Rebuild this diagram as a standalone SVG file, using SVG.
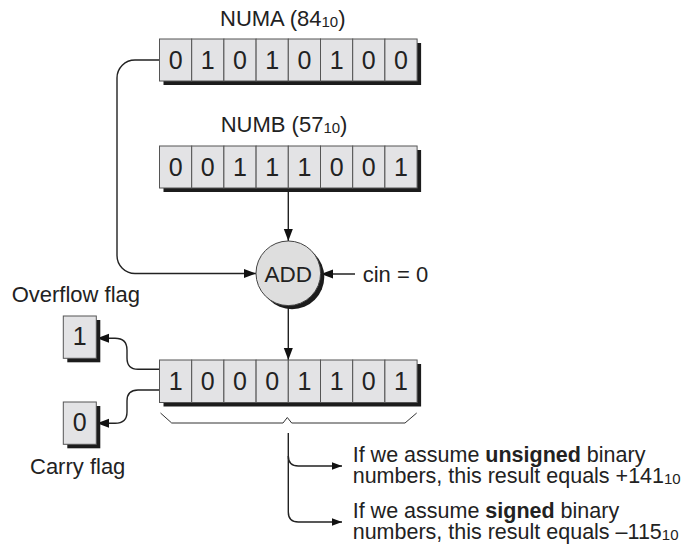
<svg xmlns="http://www.w3.org/2000/svg" width="686" height="555" viewBox="0 0 686 555">
<defs>
<style>
text{font-family:"Liberation Sans",Arial,Helvetica,sans-serif;fill:#222}
.lbl{font-size:22px}
.dig{font-size:25px;text-anchor:middle}
.exp{font-size:21.5px}
.sub{font-size:15px}
.cell{fill:#e3e3e5;stroke:#555;stroke-width:1}
.shadow{fill:#1c1c1c}
.wire{fill:none;stroke:#222;stroke-width:1.4}
.brace{fill:none;stroke:#333;stroke-width:1}
</style>
<marker id="arr" markerUnits="userSpaceOnUse" markerWidth="12" markerHeight="10" refX="12" refY="4.5" orient="auto">
<path d="M0,0 L12,4.5 L0,9 z" fill="#111"/>
</marker>
<marker id="arrs" markerUnits="userSpaceOnUse" markerWidth="10" markerHeight="8" refX="10" refY="3.75" orient="auto">
<path d="M0,0 L10,3.75 L0,7.5 z" fill="#111"/>
</marker>
</defs>
<rect width="686" height="555" fill="#fff"/>

<g id="connectors">
<path class="wire" d="M159.5 60 H135 A18 18 0 0 0 117 78 V255.5 A18 18 0 0 0 135 273.5 H256" marker-end="url(#arr)"/>
<path class="wire" d="M288.3 188 V241" marker-end="url(#arr)"/>
<path class="wire" d="M355 274 H321" marker-end="url(#arr)"/>
<path class="wire" d="M288.3 307 V360" marker-end="url(#arr)"/>
<path class="wire" d="M159.5 369.3 H138 Q127 369.3 127 358 V350 Q127 338.3 115 338.3 H97" marker-end="url(#arr)"/>
<path class="wire" d="M159.5 390 H138 Q127 390 127 401 V412 Q127 423.3 115 423.3 H97" marker-end="url(#arr)"/>
<path class="brace" d="M160.5 413 L171.7 423 H283 L287.3 417.5 L291.7 423 H405 L416.7 413"/>
<path class="wire" d="M288.3 433 V512 Q288.3 522 298.3 522 H342" marker-end="url(#arrs)"/>
<path class="wire" d="M288.3 456 Q288.3 466 298.3 466 H342" marker-end="url(#arrs)"/>
</g>

<g id="numa">
<text class="lbl" x="220" y="26">NUMA (84<tspan class="sub" dy="1">10</tspan><tspan dy="-1">)</tspan></text>
<rect class="shadow" x="163.5" y="43" width="257.6" height="42"/>
<rect class="cell" x="159.5" y="39" width="32.2" height="42"/>
<rect class="cell" x="191.7" y="39" width="32.2" height="42"/>
<rect class="cell" x="223.9" y="39" width="32.2" height="42"/>
<rect class="cell" x="256.1" y="39" width="32.2" height="42"/>
<rect class="cell" x="288.3" y="39" width="32.2" height="42"/>
<rect class="cell" x="320.5" y="39" width="32.2" height="42"/>
<rect class="cell" x="352.7" y="39" width="32.2" height="42"/>
<rect class="cell" x="384.9" y="39" width="32.2" height="42"/>
<text class="dig" x="175.6" y="69">0</text>
<text class="dig" x="207.8" y="69">1</text>
<text class="dig" x="240" y="69">0</text>
<text class="dig" x="272.2" y="69">1</text>
<text class="dig" x="304.4" y="69">0</text>
<text class="dig" x="336.6" y="69">1</text>
<text class="dig" x="368.8" y="69">0</text>
<text class="dig" x="401" y="69">0</text>
</g>

<g id="numb">
<text class="lbl" x="220.7" y="132">NUMB (57<tspan class="sub" dy="1">10</tspan><tspan dy="-1">)</tspan></text>
<rect class="shadow" x="163.5" y="150" width="257.6" height="42"/>
<rect class="cell" x="159.5" y="146" width="32.2" height="42"/>
<rect class="cell" x="191.7" y="146" width="32.2" height="42"/>
<rect class="cell" x="223.9" y="146" width="32.2" height="42"/>
<rect class="cell" x="256.1" y="146" width="32.2" height="42"/>
<rect class="cell" x="288.3" y="146" width="32.2" height="42"/>
<rect class="cell" x="320.5" y="146" width="32.2" height="42"/>
<rect class="cell" x="352.7" y="146" width="32.2" height="42"/>
<rect class="cell" x="384.9" y="146" width="32.2" height="42"/>
<text class="dig" x="175.6" y="176">0</text>
<text class="dig" x="207.8" y="176">0</text>
<text class="dig" x="240" y="176">1</text>
<text class="dig" x="272.2" y="176">1</text>
<text class="dig" x="304.4" y="176">1</text>
<text class="dig" x="336.6" y="176">0</text>
<text class="dig" x="368.8" y="176">0</text>
<text class="dig" x="401" y="176">1</text>
</g>

<g id="add">
<circle class="shadow" cx="292" cy="277" r="32.3"/>
<circle cx="288.3" cy="273.3" r="32.3" fill="#dedede" stroke="#444" stroke-width="1"/>
<text class="lbl" x="288.3" y="281.7" text-anchor="middle" style="font-size:22.5px">ADD</text>
</g>

<g id="cin">
<text class="lbl" x="362.7" y="282">cin = 0</text>
</g>

<g id="result">
<rect class="shadow" x="163.5" y="364" width="257.6" height="42.5"/>
<rect class="cell" x="159.5" y="360" width="32.2" height="42.5"/>
<rect class="cell" x="191.7" y="360" width="32.2" height="42.5"/>
<rect class="cell" x="223.9" y="360" width="32.2" height="42.5"/>
<rect class="cell" x="256.1" y="360" width="32.2" height="42.5"/>
<rect class="cell" x="288.3" y="360" width="32.2" height="42.5"/>
<rect class="cell" x="320.5" y="360" width="32.2" height="42.5"/>
<rect class="cell" x="352.7" y="360" width="32.2" height="42.5"/>
<rect class="cell" x="384.9" y="360" width="32.2" height="42.5"/>
<text class="dig" x="175.6" y="390">1</text>
<text class="dig" x="207.8" y="390">0</text>
<text class="dig" x="240" y="390">0</text>
<text class="dig" x="272.2" y="390">0</text>
<text class="dig" x="304.4" y="390">1</text>
<text class="dig" x="336.6" y="390">1</text>
<text class="dig" x="368.8" y="390">0</text>
<text class="dig" x="401" y="390">1</text>
</g>

<g id="overflow">
<text class="lbl" x="11.7" y="301.7">Overflow flag</text>
<rect class="shadow" x="67.3" y="320" width="33" height="42.3"/>
<rect class="cell" x="63.3" y="316" width="33" height="42.3"/>
<text class="dig" x="79.8" y="345">1</text>
</g>

<g id="carry">
<rect class="shadow" x="67.3" y="406" width="33" height="42.3"/>
<rect class="cell" x="63.3" y="402" width="33" height="42.3"/>
<text class="dig" x="79.8" y="431">0</text>
<text class="lbl" x="30" y="474">Carry flag</text>
</g>

<g id="unsigned-note">
<text class="exp" x="352.7" y="461.5">If we assume <tspan font-weight="bold">unsigned</tspan> binary<tspan x="352.7" dy="21.5">numbers, this result equals +141</tspan><tspan class="sub" dy="1">10</tspan></text>
</g>

<g id="signed-note">
<text class="exp" x="352.7" y="517.5">If we assume <tspan font-weight="bold">signed</tspan> binary<tspan x="352.7" dy="21.5">numbers, this result equals –115</tspan><tspan class="sub" dy="1">10</tspan></text>
</g>
</svg>
